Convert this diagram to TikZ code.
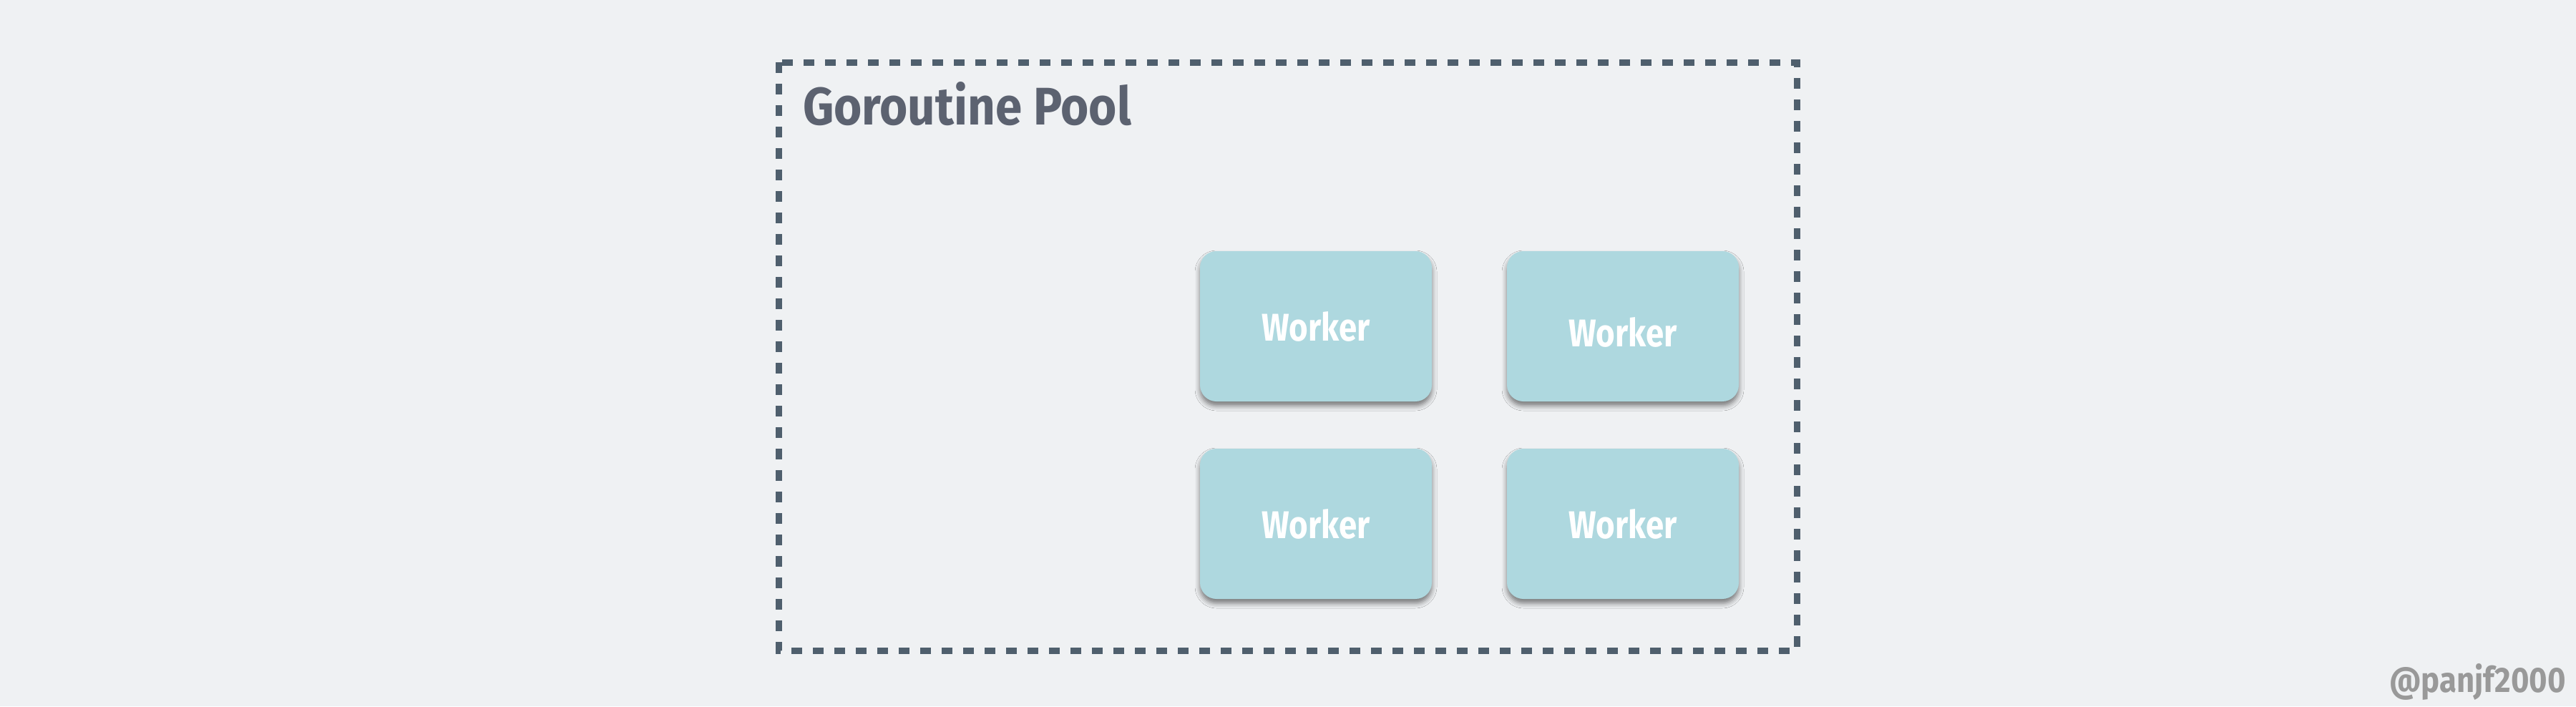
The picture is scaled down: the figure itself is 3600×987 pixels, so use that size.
\documentclass[tikz,border=0pt]{standalone}
\usepackage{fontspec}
\setmainfont{Fira Sans}
\usepackage{graphicx}
\usetikzlibrary{shadows.blur}
\definecolor{bgc}{HTML}{EFF1F3}
\definecolor{dashc}{HTML}{4F5F6D}
\definecolor{titlec}{HTML}{5C6270}
\definecolor{boxc}{HTML}{AED8DF}
\definecolor{markc}{HTML}{999999}
\tikzset{
  workerbox/.style={draw=none, fill=boxc, rounded corners=4.6pt, minimum width=64.8pt,
    minimum height=42pt, inner sep=0pt, text=white, font=\bfseries,
    blur shadow={shadow xshift=0pt, shadow yshift=-1.2pt, shadow blur radius=1.4pt, shadow opacity=50}},
  poolframe/.style={draw=dashc, line width=1.8pt, dash pattern=on 3pt off 3pt}
}
\newcommand{\wtext}{\resizebox{30.2pt}{8.2pt}{Worker}}
\begin{document}
\begin{tikzpicture}[x=0.2pt,y=-0.2pt]
\fill[bgc] (0,0) rectangle (3600,987);
\useasboundingbox (0,0) rectangle (3600,987);
\draw[poolframe] (1088,87) rectangle (2511,909);
\node[anchor=base west, inner sep=0pt, text=titlec, font=\bfseries] (title) at (1121,175) {\resizebox{91.8pt}{12pt}{Goroutine Pool}};
\node[workerbox] (w1) at (1839,456) {\wtext};
\node[workerbox] (w2) at (2268,456) {\raisebox{-1.5pt}[8.2pt][0pt]{\wtext}};
\node[workerbox] (w3) at (1839,732) {\wtext};
\node[workerbox] (w4) at (2268,732) {\wtext};
\node[anchor=base west, inner sep=0pt, text=markc, font=\bfseries] (mark) at (3338,967) {\resizebox{49.4pt}{8pt}{@panjf2000}};
\end{tikzpicture}
\end{document}
